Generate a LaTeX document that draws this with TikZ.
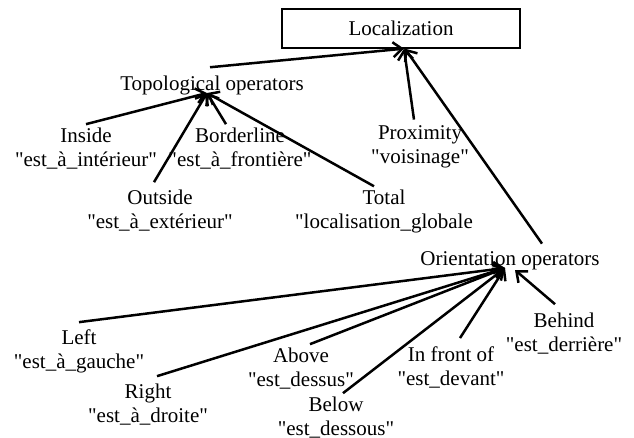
\documentclass[tikz,border=0pt]{standalone}
\usepackage{fontspec}
\setmainfont{Liberation Serif}[Ligatures=TeXOff]
\usetikzlibrary{arrows.meta}
\begin{document}
\begin{tikzpicture}[x=1pt,y=-1pt,
  lbl/.style={align=center,inner sep=3pt,font=\fontsize{21}{24}\selectfont},
  arr/.style={-{Straight Barb[length=9pt,width=15pt,line width=2.5pt]},line width=2.5pt},
  boxnode/.style={draw,line width=1.3pt,minimum width=238pt,minimum height=39pt,inner sep=0pt,font=\fontsize{21}{24}\selectfont}]
\useasboundingbox (0,0) rectangle (634,437);
\node[boxnode] (loc) at (401,28.5) {Localization};
\node[lbl] (topo) at (212,85) {Topological operators};
\node[lbl] (inside) at (86,149) {Inside\\"est\_à\_intérieur"};
\node[lbl] (border) at (240,149) {Borderline\\"est\_à\_frontière"};
\node[lbl] (outside) at (160,211) {Outside\\"est\_à\_extérieur"};
\node[lbl] (total) at (384,211) {Total\\"localisation\_globale};
\node[lbl] (prox) at (420,147) {Proximity\\"voisinage"};
\node[lbl] (orient) at (510,261) {Orientation operators};
\node[lbl] (left) at (79,351) {Left\\"est\_à\_gauche"};
\node[lbl] (right) at (148,405) {Right\\"est\_à\_droite"};
\node[lbl] (above) at (301,369) {Above\\"est\_dessus"};
\node[lbl] (below) at (336,418) {Below\\"est\_dessous"};
\node[lbl] (front) at (451,367) {In front of\\"est\_devant"};
\node[lbl] (behind) at (564,334) {Behind\\"est\_derrière"};
\coordinate (topotip) at (207,93);
\coordinate (orienttip) at (505,268);
\coordinate (behindtip) at (515,270);
\draw[arr] ([shift={(-2,-5)}]topo.north) -- ([xshift=3pt]loc.south);
\draw[arr] ([shift={(-6,-3)}]prox.north) -- ([xshift=3pt]loc.south);
\draw[arr] ([shift={(32,-5)}]orient.north) -- ([xshift=4pt]loc.south);
\draw[arr] ([shift={(0,-1)}]inside.north) -- (topotip);
\draw[arr] ([shift={(-14,-1)}]border.north) -- (topotip);
\draw[arr] ([shift={(-6,-5)}]outside.north) -- (topotip);
\draw[arr] ([shift={(-10,0)}]total.north) -- (topotip);
\draw[arr] ([shift={(0,-4)}]left.north) -- (orienttip);
\draw[arr] ([shift={(9,-5)}]right.north) -- (orienttip);
\draw[arr] ([shift={(9,-1)}]above.north) -- (orienttip);
\draw[arr] ([shift={(7,-1)}]below.north) -- (orienttip);
\draw[arr] ([shift={(9,-5)}]front.north) -- (orienttip);
\draw[arr] ([shift={(-9,-6)}]behind.north) -- (behindtip);
\end{tikzpicture}
\end{document}
